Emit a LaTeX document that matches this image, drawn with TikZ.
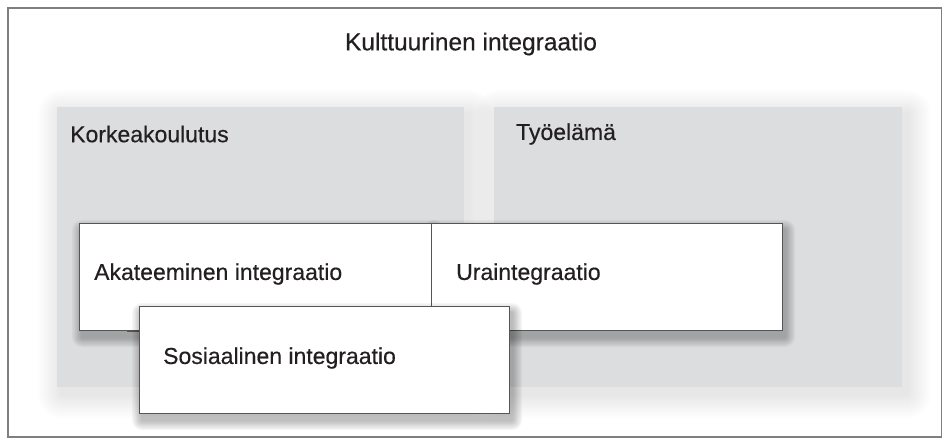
\documentclass[tikz,border=0pt]{standalone}
\usepackage{fontspec}
\setmainfont{Liberation Sans}[FakeBold=0.4]
\definecolor{frameC}{HTML}{7F7F7F}
\definecolor{greyF}{HTML}{DCDDDF}
\definecolor{boxD}{HTML}{555555}
\definecolor{txt}{HTML}{231F20}
\tikzset{
  greybox/.style={rectangle, fill=greyF, draw=none, anchor=north west, inner sep=0pt},
  whitebox/.style={rectangle, fill=white, draw=boxD, line width=0.9pt, anchor=north west, inner sep=0pt},
  lbl/.style={anchor=west, inner sep=0pt, text=txt, font=\fontsize{23}{26}\selectfont},
  ttl/.style={anchor=center, inner sep=0pt, text=txt, font=\fontsize{24.5}{28}\selectfont},
}
% soft shadow: x1 y1 x2 y2 dx dy step count opacity
\newcommand\softsh[9]{%
  \foreach \k in {1,...,#8}{%
    \fill[black, opacity=#9, rounded corners=\k*#7 pt]
      (#1+#5-\k*#7, #2+#6-\k*#7) rectangle (#3+#5+\k*#7, #4+#6+\k*#7);
  }%
}
\begin{document}
\begin{tikzpicture}[x=1pt, y=-1pt]
\useasboundingbox (0,0) rectangle (942,438);
\node[draw=frameC, line width=2pt, rectangle, anchor=north west, inner sep=0pt,
  minimum width=934pt, minimum height=429pt] (frame) at (7,7) {};
\node[ttl] (title) at (471,44) {Kulttuurinen integraatio};
% grey areas
\softsh{57}{107}{464}{387}{5}{7}{2}{12}{0.008}
\softsh{494}{107}{902}{387}{5}{7}{2}{12}{0.008}
\node[greybox, minimum width=407pt, minimum height=280pt] (ko) at (57,107) {};
\node[greybox, minimum width=408pt, minimum height=280pt] (ty) at (494,107) {};
\node[lbl] (kol) at (70,134) {Korkeakoulutus};
\node[lbl] (tyl) at (516,134) {Työelämä};
% white boxes
\softsh{79}{223}{431}{330}{3}{7}{1.25}{8}{0.035}
\softsh{431}{223}{782}{330}{3}{7}{1.25}{8}{0.035}
\node[whitebox, minimum width=352pt, minimum height=107pt] (ak) at (79,223) {};
\node[whitebox, minimum width=351pt, minimum height=107pt] (ur) at (431,223) {};
\draw[boxD, line width=2.5pt] (ak.south west) ++(48,0) -- ++(12,0);
\softsh{139}{306}{509}{413}{3}{7}{1.25}{8}{0.035}
\node[whitebox, minimum width=370pt, minimum height=107pt] (so) at (139,306) {};
\node[lbl] (akl) at (94,274) {Akateeminen integraatio};
\node[lbl] (url) at (456,274) {Uraintegraatio};
\node[lbl] (sol) at (163,358) {Sosiaalinen integraatio};
\end{tikzpicture}
\end{document}
